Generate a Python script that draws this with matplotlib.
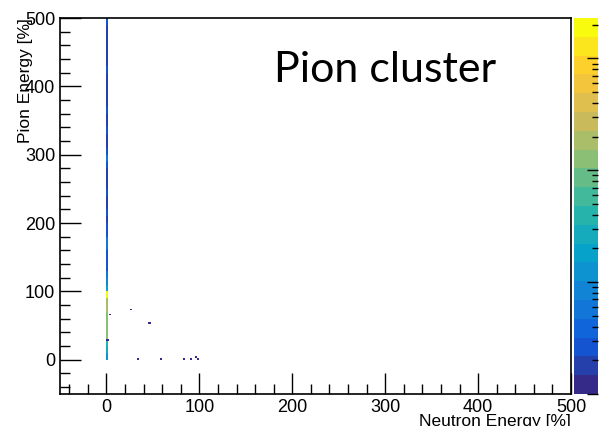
import numpy as np
import matplotlib
matplotlib.use("Agg")
import matplotlib.pyplot as plt
from matplotlib.colors import LinearSegmentedColormap, LogNorm

plt.rcParams["font.family"] = ["Liberation Sans", "DejaVu Sans"]

# counts of the x~0 column, 10 % wide bins in pion energy, from 0 to 500
column_y_edges = list(range(0, 510, 10))
column_counts = [15, 30, 40, 120, 140, 150, 150, 160, 160, 2000,
                 20, 8, 5, 3, 3, 3, 6, 5, 3, 3,
                 2, 3, 2, 2, 3, 2, 2, 2, 3, 5,
                 3, 2, 2, 3, 2, 2, 3, 2, 2, 2,
                 2, 2, 3, 2, 2, 2, 2, 2, 2, 3]
column_x_edges = [-1.0, 1.5]

# isolated single entries (neutron %, pion %)
stray_neutron = [3, 25, 47, 2, 34, 58, 83, 91, 96, 98]
stray_pion = [66, 74, 53, 29, 2, 0, 0, 0, 4, 0]

# ROOT kBird palette, 20 contour levels
bird_r = [0.2082, 0.0592, 0.0780, 0.0232, 0.1802, 0.5301, 0.8186, 0.9956, 0.9764]
bird_g = [0.1664, 0.3599, 0.5041, 0.6419, 0.7178, 0.7492, 0.7328, 0.7862, 0.9832]
bird_b = [0.5293, 0.8684, 0.8385, 0.7914, 0.6425, 0.4662, 0.3499, 0.1968, 0.0539]
cmap = LinearSegmentedColormap.from_list(
    "bird", list(zip(bird_r, bird_g, bird_b)), N=20)
norm = LogNorm(vmin=1, vmax=2300)

fig = plt.figure(figsize=(6.02, 4.26), dpi=100)
ax = fig.add_axes([0.0997, 0.0751, 0.8488, 0.8826])
cax = fig.add_axes([0.9535, 0.0751, 0.040, 0.8826])

col = np.array(column_counts, dtype=float).reshape(-1, 1)
mesh = ax.pcolormesh(column_x_edges, column_y_edges, col, cmap=cmap, norm=norm)

edges = np.arange(-50, 502.5, 2.5)
ax.hist2d(stray_neutron, stray_pion, bins=[edges, edges], cmap=cmap,
          norm=norm, cmin=1)

ax.set_xlim(-50, 500)
ax.set_ylim(-50, 500)
ax.set_xticks([0, 100, 200, 300, 400, 500])
ax.set_yticks([0, 100, 200, 300, 400, 500])
ax.set_xticks(np.arange(-40, 500, 20), minor=True)
ax.set_yticks(np.arange(-40, 500, 20), minor=True)
ax.tick_params(which="both", direction="in", top=False, right=False,
               labelsize=13, width=1)
ax.tick_params(which="major", length=15)
ax.tick_params(which="minor", length=7)
for s in ax.spines.values():
    s.set_linewidth(1.2)

ax.set_xlabel("Neutron Energy [%]", fontsize=12.5)
ax.xaxis.set_label_coords(1.0, -0.052)
ax.xaxis.label.set_horizontalalignment("right")
ax.set_ylabel("Pion Energy [%]", fontsize=12.5)
ax.yaxis.set_label_coords(-0.053, 1.0)
ax.yaxis.label.set_horizontalalignment("right")

fig.text(0.455, 0.836, "Pion cluster", fontsize=31,
         family=["Lato", "DejaVu Sans"], ha="left", va="center")

cb = fig.colorbar(mesh, cax=cax)
cb.outline.set_visible(False)
cax.set_yticks([1, 10, 100, 1000])
cax.set_yticks([m * d for d in [1, 10, 100, 1000] for m in range(2, 10)
                if m * d <= 2300], minor=True)
cax.tick_params(which="both", direction="in", left=False, right=True,
                labelright=False, labelleft=False, colors="black")
cax.tick_params(which="major", length=8, width=1)
cax.tick_params(which="minor", length=4, width=1)

fig.savefig("out.png", dpi=100)
